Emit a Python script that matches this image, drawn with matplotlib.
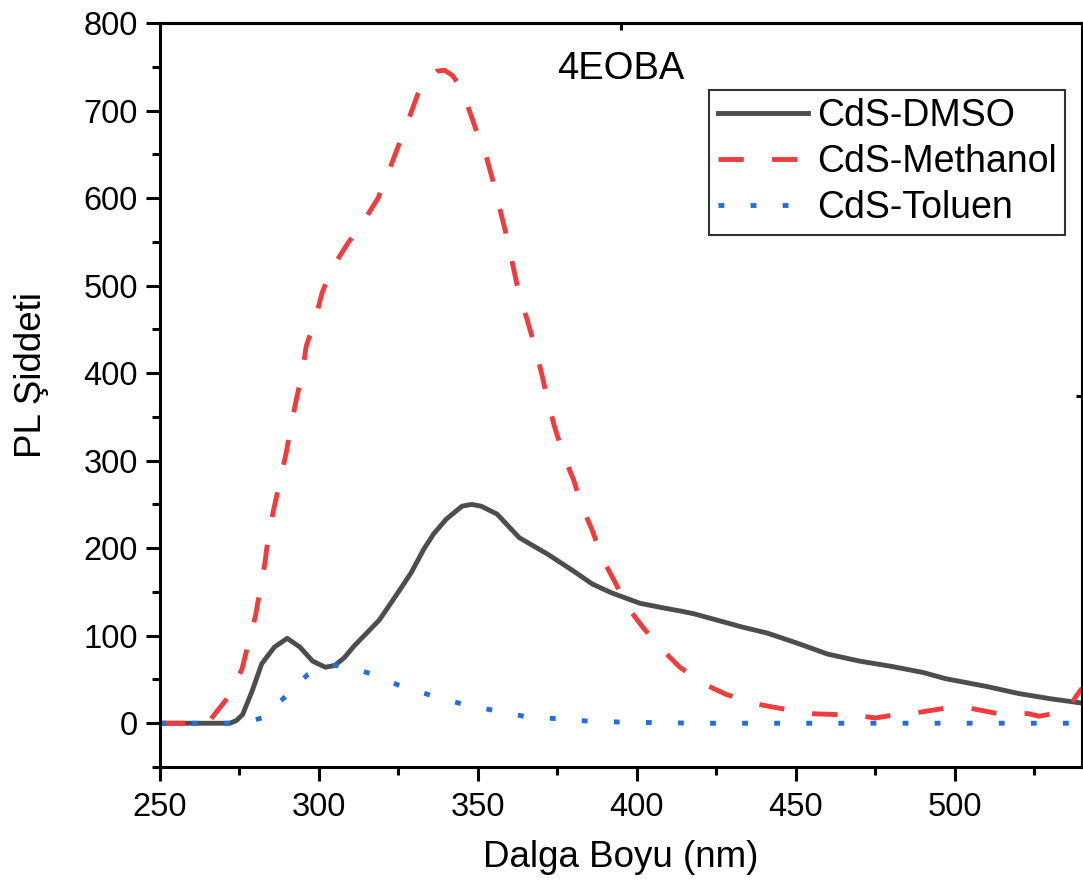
import numpy as np
import matplotlib
matplotlib.use('Agg')
import matplotlib.pyplot as plt
from matplotlib.ticker import MultipleLocator

plt.rcParams['font.family'] = ['Liberation Sans', 'DejaVu Sans']

# PL spectra of CdS in three solvents (4EOBA)
wl_dmso = [250, 272, 274, 276, 279, 282, 286, 290, 294, 298, 302, 305, 308, 311, 315,
           319, 322, 325, 329, 333, 336, 340, 345, 348, 351, 356, 363, 372, 380, 386,
           392, 401, 408, 414, 418, 425, 433, 441, 450, 460, 470, 480, 490, 497, 510,
           520, 530, 540]
pl_dmso = [0, 0, 3, 10, 37, 68, 87, 97, 87, 71, 64, 66, 75, 88, 103,
           118, 134, 150, 172, 199, 216, 233, 248, 250, 248, 239, 212, 193, 174, 159,
           149, 137, 132, 128, 125, 118, 110, 103, 92, 79, 71, 65, 58, 51, 42,
           34, 28, 23]

wl_meoh = [250, 265, 266.7, 271.7, 275.8, 277.7, 280, 281.4, 283, 284, 285.5, 287.5,
           289.7, 291, 293, 294.7, 296, 298.7, 301, 304, 309, 313.8, 318.6, 321.7,
           324.8, 327.7, 331, 334, 337, 339.5, 342, 344.5, 346.9, 350, 352.8, 355.3,
           357, 359.4, 361, 363, 365.4, 368, 370, 372, 374, 377, 380, 382.7, 386,
           389, 393, 397, 402, 408, 413.5, 421, 428, 437.6, 445, 454, 462, 471, 475,
           480, 488, 496.6, 505, 513.5, 523, 526.5, 531, 535, 538, 540]
pl_meoh = [0, 0, 8, 31, 62, 90, 122, 151, 183, 212, 240, 273,
           309, 336, 372, 399, 431, 460, 492, 519, 548, 572, 600, 628,
           658, 685, 718, 736, 745, 746, 740, 727, 704, 672, 645, 612,
           586, 551, 523, 489, 462, 429, 400, 368, 340, 305, 279, 248, 220,
           189, 162, 133, 109, 84, 64, 45, 33, 22, 17, 11, 10, 8, 6,
           9, 12, 17, 17, 11, 11, 8, 11, 14, 30, 40]

wl_tol = [250, 273, 277, 282, 285, 289, 293, 296.6, 301, 305, 310, 316.7, 326, 336,
          346, 356, 365.7, 376, 386, 400, 420, 450, 540]
pl_tol = [0, 0, 1, 6, 15, 29, 44, 56, 64, 66, 64, 56, 42, 31,
          21, 14, 7, 5, 2, 1, 0, 0, 0]

labels = ['CdS-DMSO', 'CdS-Methanol', 'CdS-Toluen']
colors = ['#4d4d4d', '#f03c3c', '#1f6fdf']

fig = plt.figure(figsize=(10.83, 8.89), dpi=100)
ax = fig.add_axes([160 / 1083, 1 - 767 / 889, 922 / 1083, 744 / 889])

lw = 3.5
ax.plot(wl_dmso, pl_dmso, color=colors[0], lw=lw, label=labels[0],
        solid_joinstyle='round')
ax.plot(wl_meoh, pl_meoh, color=colors[1], lw=lw, label=labels[1],
        dashes=(5.2, 5.8))
ax.plot(wl_tol, pl_tol, color=colors[2], lw=lw, label=labels[2],
        dashes=(1.2, 5.4))

ax.set_xlim(250, 540)
ax.set_ylim(-50, 800)
ax.xaxis.set_major_locator(MultipleLocator(50))
ax.xaxis.set_minor_locator(MultipleLocator(25))
ax.yaxis.set_major_locator(MultipleLocator(100))
ax.yaxis.set_minor_locator(MultipleLocator(50))

for s in ax.spines.values():
    s.set_linewidth(2.2)
ax.tick_params(which='major', direction='out', length=10, width=2.2,
               labelsize=23.5, pad=6)
ax.tick_params(which='minor', direction='out', length=5.5, width=2.2)
ax.tick_params(axis='x', which='major', pad=8)

ax.set_xlabel('Dalga Boyu (nm)', fontsize=26.5, labelpad=12)
ax.set_ylabel('PL Şiddeti', fontsize=26.5)
ax.yaxis.set_label_coords(-0.12, 0.527)

# stray inward ticks on the top and right frame
top = ax.secondary_xaxis('top')
top.set_xticks([395])
top.tick_params(direction='in', length=5, width=2.2, labeltop=False)
right = ax.secondary_yaxis('right')
right.set_yticks([374])
right.tick_params(direction='in', length=4.5, width=2.2, labelright=False)
for sec in (top, right):
    for s in sec.spines.values():
        s.set_linewidth(2.2)

ax.text(395, 748, '4EOBA', fontsize=27.5, ha='center', va='center')

leg = ax.legend(loc='upper right', bbox_to_anchor=(905 / 922, 677 / 744),
                borderaxespad=0, fontsize=27, frameon=True, fancybox=False,
                handlelength=2.4, handletextpad=0.25, labelspacing=0.27,
                borderpad=0.22)
leg.get_frame().set_edgecolor('black')
leg.get_frame().set_linewidth(1.5)

fig.savefig('out.png', dpi=100)
